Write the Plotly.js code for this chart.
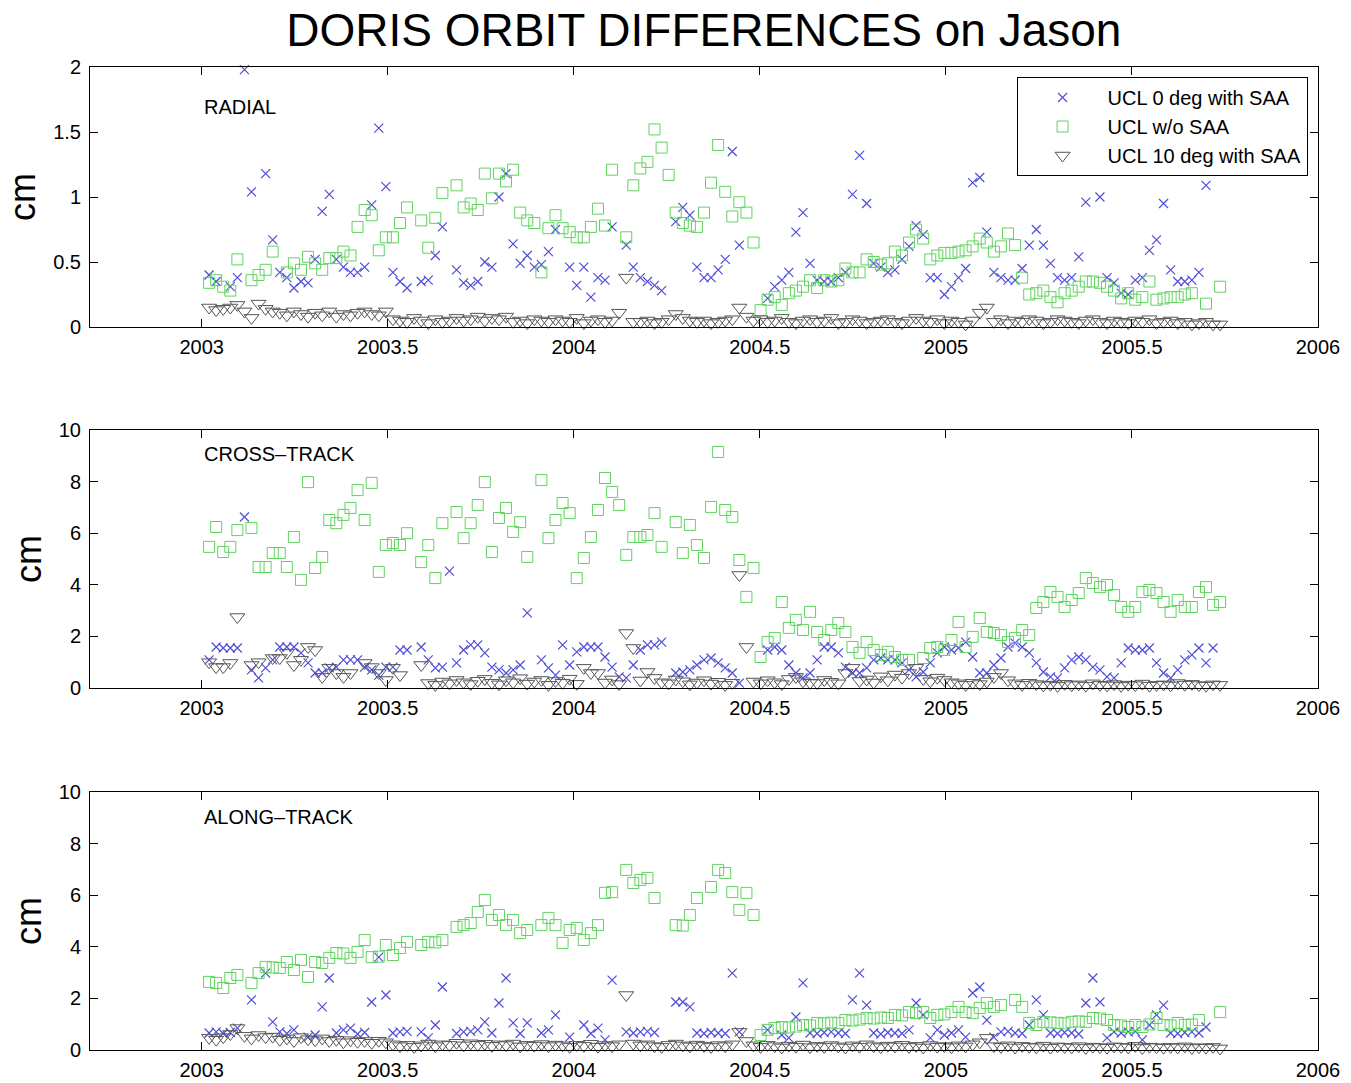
<!DOCTYPE html>
<html>
<head>
<meta charset="utf-8">
<script src="https://cdn.plot.ly/plotly-3.0.1.min.js"></script>
<style>html,body{margin:0;padding:0;background:#fff;}</style>
</head>
<body>
<div id="chart" style="width:1351px;height:1083px;"></div>
<script>
// Epochs (decimal year) of the orbit arcs
const epochs = [
2003.020,2003.039,2003.058,2003.077,2003.096,2003.115,2003.134,2003.153,2003.172,2003.191,
2003.210,2003.229,2003.248,2003.267,2003.286,2003.305,2003.324,2003.343,2003.362,2003.381,
2003.400,2003.419,2003.438,2003.457,2003.476,2003.495,2003.514,2003.533,2003.552,2003.571,
2003.590,2003.609,2003.628,2003.647,2003.666,2003.685,2003.704,2003.723,2003.742,2003.761,
2003.780,2003.799,2003.818,2003.837,2003.856,2003.875,2003.894,2003.913,2003.932,2003.951,
2003.970,2003.989,2004.008,2004.027,2004.046,2004.065,2004.084,2004.103,2004.122,2004.141,
2004.160,2004.179,2004.198,2004.217,2004.236,2004.255,2004.274,2004.293,2004.312,2004.331,
2004.350,2004.369,2004.388,2004.407,2004.426,2004.445,2004.464,2004.483,2004.502,2004.521,
2004.540,2004.559,2004.578,2004.597,2004.616,2004.635,2004.654,2004.673,2004.692,2004.711,
2004.730,2004.749,2004.768,2004.787,2004.806,2004.825,2004.844,2004.863,2004.882,2004.901,
2004.920,2004.939,2004.958,2004.977,2004.996,2005.015,2005.034,2005.053,2005.072,2005.091,
2005.110,2005.129,2005.148,2005.167,2005.186,2005.205,2005.224,2005.243,2005.262,2005.281,
2005.300,2005.319,2005.338,2005.357,2005.376,2005.395,2005.414,2005.433,2005.452,2005.471,
2005.490,2005.509,2005.528,2005.547,2005.566,2005.585,2005.604,2005.623,2005.642,2005.661,
2005.680,2005.699,2005.718,2005.737];

// RADIAL (cm)
const radialUcl0 = [
0.40,0.35,null,0.31,0.38,1.98,1.04,null,1.18,0.67,
0.42,0.38,0.30,0.35,0.34,0.52,0.89,1.02,0.52,0.46,
0.42,0.42,0.46,0.94,1.53,1.08,0.42,0.35,0.30,null,
0.35,0.36,0.55,0.77,null,0.44,0.34,0.32,0.35,0.50,
0.46,1.00,1.18,0.64,0.49,0.55,0.46,0.48,0.58,0.75,
null,0.46,0.32,0.46,0.23,0.38,0.36,0.77,null,0.63,
0.46,0.38,0.35,0.32,0.28,null,0.81,0.92,0.86,0.46,
0.38,0.38,0.44,0.52,1.35,0.63,null,null,null,0.22,
0.31,0.36,0.42,0.73,0.88,0.49,0.36,0.35,0.35,0.38,
0.42,1.02,1.32,0.95,0.49,0.46,0.42,0.44,0.52,0.62,
0.78,0.71,0.38,0.38,0.25,0.31,0.38,0.45,1.11,1.15,
0.73,0.42,0.38,0.36,0.36,0.45,0.63,0.75,0.63,0.49,
0.38,0.36,0.38,0.54,0.96,1.23,1.00,0.38,0.34,0.26,
0.25,0.36,0.38,0.59,0.67,0.95,0.44,0.35,0.35,0.36,
0.42,1.09,null,null];
const radialNoSaa = [
0.34,0.36,0.31,0.28,0.52,null,0.36,0.40,0.44,0.58,
null,0.42,0.49,0.44,0.54,0.49,0.44,0.53,0.53,0.58,
0.55,0.77,0.90,0.86,0.59,0.69,0.69,0.80,0.92,null,
0.82,0.61,0.84,1.03,null,1.09,0.92,0.95,0.90,1.18,
0.99,1.18,1.12,1.21,0.88,0.82,0.80,0.42,0.76,0.86,
0.76,0.73,0.69,0.69,0.77,0.91,0.78,1.21,null,0.69,
1.09,1.22,1.27,1.52,1.38,1.17,0.88,0.80,0.78,0.77,
0.88,1.11,1.40,1.04,0.85,0.96,0.88,0.65,0.13,0.21,
0.23,0.17,0.26,0.28,0.31,0.36,0.30,0.36,0.35,0.36,
0.45,0.42,0.42,0.52,0.50,0.48,0.49,0.58,0.55,0.65,
0.75,0.68,0.52,0.55,0.57,0.57,0.58,0.59,0.62,0.68,
0.65,0.58,0.62,0.72,0.63,0.38,0.25,0.26,0.28,0.23,
0.19,0.26,0.28,0.31,0.35,0.35,0.34,0.31,0.28,0.22,
0.26,0.21,0.23,0.35,0.21,0.22,0.23,0.23,0.25,0.26,
null,0.18,null,0.31];
const radialUcl10 = [
0.15,0.13,0.14,0.15,0.17,0.12,0.07,0.18,0.14,0.12,
0.11,0.09,0.12,0.10,0.08,0.11,0.09,0.12,0.08,0.10,
0.09,0.11,0.12,0.10,0.09,0.12,0.06,0.05,0.04,0.07,
0.05,0.03,0.06,0.04,0.05,0.07,0.05,0.06,0.08,0.05,
0.07,0.06,0.08,0.04,0.05,0.03,0.06,0.05,0.04,0.06,
0.05,0.04,0.07,0.03,0.05,0.06,0.04,0.05,0.11,0.38,
0.04,0.04,0.05,0.03,0.04,0.06,0.10,0.07,0.05,0.04,
0.05,0.03,0.04,0.05,0.06,0.15,0.08,0.05,0.06,0.04,
0.05,0.07,0.04,0.03,0.05,0.06,0.04,0.05,0.07,0.03,
0.04,0.06,0.05,0.03,0.04,0.05,0.06,0.04,0.03,0.05,
0.07,0.05,0.04,0.06,0.03,0.05,0.04,0.02,0.05,0.11,
0.15,0.04,0.06,0.03,0.05,0.04,0.06,0.05,0.03,0.04,
0.06,0.05,0.04,0.03,0.05,0.06,0.04,0.03,0.05,0.04,
0.03,0.05,0.04,0.06,0.03,0.04,0.05,0.03,0.04,0.02,
0.03,0.04,0.02,0.02];

// CROSS-TRACK (cm)
const crossUcl0 = [
1.09,1.59,1.55,1.55,1.55,6.63,0.70,0.39,0.78,1.09,
1.59,1.59,1.59,1.36,0.97,0.58,0.58,0.78,0.81,1.09,
1.09,1.09,0.81,0.70,0.50,0.81,0.81,1.47,1.47,null,
1.59,1.09,0.78,0.81,4.53,0.97,1.47,1.67,1.67,1.36,
0.81,0.70,0.58,0.70,0.89,2.91,null,1.09,0.78,0.50,
1.67,0.89,1.40,1.59,1.59,1.59,1.20,0.81,0.43,0.39,
0.89,1.47,1.67,1.67,1.78,null,0.58,0.62,0.70,0.89,
1.09,1.16,0.97,0.78,0.58,0.19,null,null,null,1.47,
1.59,1.47,0.89,0.58,0.39,0.58,1.09,1.59,1.59,1.36,
0.81,0.58,0.58,0.78,1.09,1.16,1.09,1.09,0.97,0.70,
0.43,0.62,0.97,1.36,1.59,1.47,1.55,1.78,1.20,0.58,
0.58,0.89,1.16,1.59,1.74,1.59,1.36,0.97,0.62,0.43,
0.39,0.78,1.09,1.20,1.09,0.81,0.70,0.43,0.39,0.97,
1.55,1.47,1.47,1.55,0.97,0.58,0.39,0.70,1.09,1.28,
1.55,0.97,1.55,null];
const crossNoSaa = [
5.47,6.24,5.27,5.47,6.12,null,6.20,4.69,4.69,5.23,
5.23,4.69,5.85,4.19,7.98,4.65,5.08,6.51,6.39,6.71,
6.98,7.67,6.51,7.95,4.50,5.54,5.62,5.54,6.00,null,
4.88,5.54,4.26,6.39,null,6.82,5.81,6.39,7.09,7.98,
5.27,6.59,6.98,6.05,6.43,5.08,null,8.06,5.81,6.51,
7.17,6.78,4.26,5.04,5.85,6.90,8.14,7.60,7.09,5.16,
5.85,5.85,5.93,6.78,5.47,null,6.43,5.23,6.32,5.54,
5.04,7.02,9.15,6.90,6.63,4.96,3.53,4.65,1.20,1.78,
1.94,3.33,2.33,2.64,2.25,2.95,2.17,1.86,2.25,2.52,
2.17,1.59,1.36,1.78,1.47,1.28,1.40,1.20,1.09,1.09,
null,1.16,1.55,1.59,1.47,1.86,2.56,1.59,1.98,2.71,
2.17,2.13,2.05,1.78,1.94,2.25,2.05,3.10,3.33,3.72,
3.53,3.14,3.41,3.68,4.26,4.07,3.91,3.99,3.60,3.14,
2.95,3.14,3.72,3.80,3.68,3.33,2.95,3.41,3.14,3.14,
3.72,3.91,3.22,3.33];
const crossUcl10 = [
1.00,0.81,0.81,0.97,2.75,null,0.89,1.00,null,1.16,
1.16,1.36,0.89,1.09,1.59,1.47,0.43,0.78,0.58,0.43,
0.58,null,0.97,0.81,0.58,0.31,0.78,0.50,null,null,
0.89,0.19,0.12,0.25,0.18,0.31,0.22,0.15,0.28,0.35,
0.20,0.14,0.30,0.22,0.38,0.17,0.25,0.31,0.12,0.27,
0.20,0.36,0.16,0.78,0.58,0.58,0.21,0.33,0.15,2.13,
1.55,0.29,0.62,0.39,0.22,0.18,0.33,0.26,0.14,0.21,
0.30,0.17,0.24,0.12,0.20,4.38,1.59,0.25,0.18,0.30,
0.22,0.15,0.35,0.43,0.26,0.20,0.19,0.31,0.24,0.18,
0.58,0.78,0.27,0.33,0.21,0.45,0.30,0.52,0.40,0.58,
0.78,0.35,0.26,0.40,0.31,0.22,0.18,0.12,0.20,0.15,
0.25,0.43,0.58,0.30,0.18,0.12,0.20,0.15,0.10,0.13,
0.08,0.16,0.11,0.14,0.09,0.18,0.12,0.10,0.15,0.08,
0.13,0.11,0.17,0.09,0.12,0.14,0.10,0.19,0.13,0.16,
0.11,0.09,0.14,0.12];

// ALONG-TRACK (cm)
const alongUcl0 = [
0.66,0.70,0.64,0.68,0.85,null,1.94,null,2.98,1.09,
0.70,0.64,0.78,null,0.50,0.58,1.67,2.79,0.66,0.78,
0.85,0.62,0.68,1.86,3.60,2.13,0.66,0.70,0.72,null,
0.70,0.47,0.97,2.44,null,0.64,0.70,0.72,0.78,1.09,
0.66,1.82,2.79,1.05,0.64,1.05,null,0.66,0.78,1.36,
null,0.50,null,0.97,0.64,0.85,0.39,2.71,null,0.70,
0.66,0.70,0.72,0.68,null,null,1.86,1.86,1.67,0.66,
0.64,0.68,0.66,0.64,2.98,0.70,null,null,null,0.78,
null,0.58,0.47,1.28,2.60,0.66,0.64,0.68,0.70,0.66,
0.64,1.94,2.98,1.74,0.66,0.62,0.68,0.66,0.64,0.78,
1.82,1.36,0.47,0.78,0.58,0.66,0.78,0.50,2.21,2.44,
1.16,0.50,0.70,0.72,0.66,0.64,0.97,1.94,1.36,0.66,
0.64,0.68,0.66,0.62,1.82,2.79,1.86,0.47,0.70,0.66,
0.70,0.72,0.39,0.97,1.36,1.74,0.66,0.64,0.68,0.70,
0.66,0.89,null,null];
const alongNoSaa = [
2.64,2.60,2.40,2.79,2.91,null,2.60,2.98,3.22,3.20,
3.18,3.41,3.10,3.49,2.83,3.41,3.37,3.57,3.76,3.74,
3.57,3.80,4.26,3.60,3.62,4.07,3.68,3.95,4.19,null,
4.07,4.19,4.17,4.26,null,4.77,4.84,4.92,5.35,5.81,
5.04,5.23,4.84,5.04,4.53,4.65,null,4.84,5.12,4.84,
4.15,4.65,4.73,4.26,4.53,4.84,6.09,6.12,null,6.98,
6.47,6.59,6.67,5.89,null,null,4.84,4.82,5.23,5.89,
null,6.32,6.98,6.86,6.12,5.43,6.09,5.23,0.58,0.78,
0.85,0.89,0.87,0.91,0.97,0.95,1.05,1.03,1.06,1.04,
1.16,1.14,1.18,1.24,1.22,1.26,1.24,1.36,1.34,1.47,
1.43,1.47,1.24,1.36,1.38,1.47,1.67,1.47,1.43,1.63,
1.82,1.67,1.74,null,1.94,1.67,1.05,0.97,1.09,1.07,
1.05,1.03,1.09,1.11,1.09,1.24,1.22,1.16,0.97,0.95,
0.89,0.97,0.89,0.99,1.24,0.97,0.95,1.05,0.97,0.99,
1.16,null,null,1.47];
const alongUcl10 = [
0.47,0.40,0.50,0.62,0.85,0.55,0.45,0.58,0.50,0.52,
0.40,0.45,0.35,0.50,0.42,0.38,0.45,0.35,0.40,0.30,
0.38,0.32,0.35,0.28,0.36,0.30,0.22,0.15,0.20,0.12,
0.18,0.25,0.15,0.22,0.20,0.28,0.18,0.26,0.20,0.24,
0.16,0.22,0.19,0.25,0.14,0.20,0.17,0.23,0.15,0.21,
0.18,0.12,0.20,0.16,0.24,0.13,0.19,0.15,0.22,2.13,
0.25,0.18,0.22,0.15,0.12,0.20,0.25,0.18,0.14,0.21,
0.16,0.12,0.19,0.15,0.22,0.70,0.35,0.18,0.12,0.20,
0.15,0.10,0.17,0.13,0.21,0.11,0.16,0.12,0.19,0.14,
0.10,0.18,0.13,0.22,0.15,0.11,0.17,0.14,0.20,0.12,
0.16,0.10,0.19,0.13,0.15,0.11,0.18,0.14,0.22,0.30,
0.47,0.15,0.12,0.18,0.10,0.16,0.13,0.11,0.17,0.09,
0.14,0.12,0.10,0.15,0.08,0.13,0.11,0.09,0.14,0.12,
0.10,0.16,0.08,0.13,0.11,0.09,0.12,0.10,0.14,0.08,
0.11,0.09,0.12,0.06];

const seriesNames = ['UCL 0 deg with SAA', 'UCL w/o SAA', 'UCL 10 deg with SAA'];
const panelLabels = ['RADIAL', 'CROSS\u2013TRACK', 'ALONG\u2013TRACK'];
const xTickVals = [2003, 2003.5, 2004, 2004.5, 2005, 2005.5, 2006];
const xTickText = ['2003', '2003.5', '2004', '2004.5', '2005', '2005.5', '2006'];
const radialTicks = [0, 0.5, 1, 1.5, 2];
const otherTicks = [0, 2, 4, 6, 8, 10];

const panelData = [
  [radialUcl0, radialNoSaa, radialUcl10],
  [crossUcl0, crossNoSaa, crossUcl10],
  [alongUcl0, alongNoSaa, alongUcl10]
];

const markerStyles = [
  {symbol: 'x-thin', size: 9, color: '#4e4ed8', line: {color: '#4e4ed8', width: 1.2}},
  {symbol: 'square-open', size: 11, color: '#5fd35f', line: {color: '#5fd35f', width: 1}},
  {symbol: 'triangle-down-open', size: 13, color: '#555555', line: {color: '#555555', width: 1}}
];

const traces = [];
panelData.forEach(function(panel, p) {
  const xa = p === 0 ? 'x' : 'x' + (p + 1);
  const ya = p === 0 ? 'y' : 'y' + (p + 1);
  panel.forEach(function(vals, s) {
    traces.push({
      type: 'scatter', mode: 'markers',
      x: epochs, y: vals,
      xaxis: xa, yaxis: ya,
      name: seriesNames[s],
      showlegend: p === 0,
      cliponaxis: false,
      marker: markerStyles[s],
      hoverinfo: 'x+y+name'
    });
  });
});

const axisCommon = {
  showline: true, linecolor: '#000', linewidth: 1, mirror: 'ticks',
  ticks: 'inside', ticklen: 8, tickcolor: '#000', tickwidth: 1,
  showgrid: false, zeroline: false,
  tickfont: {size: 20, color: '#000'}
};

function xAxis(anchor) {
  return Object.assign({}, axisCommon, {
    anchor: anchor, range: [2002.7, 2006], tickmode: 'array',
    tickvals: xTickVals, ticktext: xTickText, ticklabelstandoff: 2
  });
}
function yAxis(anchor, domain, range, ticks) {
  return Object.assign({}, axisCommon, {
    anchor: anchor, domain: domain, range: range, tickmode: 'array',
    tickvals: ticks, ticktext: ticks.map(String), ticklabelstandoff: 4,
    title: {text: 'cm', font: {size: 36, color: '#000'}, standoff: 6}
  });
}

const layout = {
  width: 1351, height: 1083,
  paper_bgcolor: '#fff', plot_bgcolor: '#fff',
  margin: {l: 90, r: 33, t: 67, b: 33},
  font: {family: '"Liberation Sans", Arial, Helvetica, sans-serif', color: '#000', size: 20},
  title: {text: 'DORIS ORBIT DIFFERENCES on Jason', font: {size: 46, color: '#000'},
          x: 0.521, xanchor: 'center', y: 0.972, yanchor: 'middle'},
  showlegend: true,
  legend: {x: 0.9915, y: 0.9898, xanchor: 'right', yanchor: 'top',
           bordercolor: '#000', borderwidth: 1, bgcolor: '#fff',
           font: {size: 20, color: '#000'}, itemwidth: 80, tracegroupgap: 0},
  xaxis: xAxis('y'),
  xaxis2: xAxis('y2'),
  xaxis3: xAxis('y3'),
  yaxis: yAxis('x', [0.7355, 1], [0, 2], radialTicks),
  yaxis2: yAxis('x2', [0.3683, 0.6307], [0, 10], otherTicks),
  yaxis3: yAxis('x3', [0, 0.2625], [0, 10], otherTicks),
  annotations: [
    {text: panelLabels[0], xref: 'x', yref: 'y', x: 2003.0, y: 1.69, xanchor: 'left', yanchor: 'middle', showarrow: false, font: {size: 20}},
    {text: panelLabels[1], xref: 'x2', yref: 'y2', x: 2003.0, y: 9.07, xanchor: 'left', yanchor: 'middle', showarrow: false, font: {size: 20}},
    {text: panelLabels[2], xref: 'x3', yref: 'y3', x: 2003.0, y: 9.03, xanchor: 'left', yanchor: 'middle', showarrow: false, font: {size: 20}}
  ]
};

Plotly.newPlot('chart', traces, layout, {displayModeBar: false, responsive: false});
</script>
</body>
</html>
